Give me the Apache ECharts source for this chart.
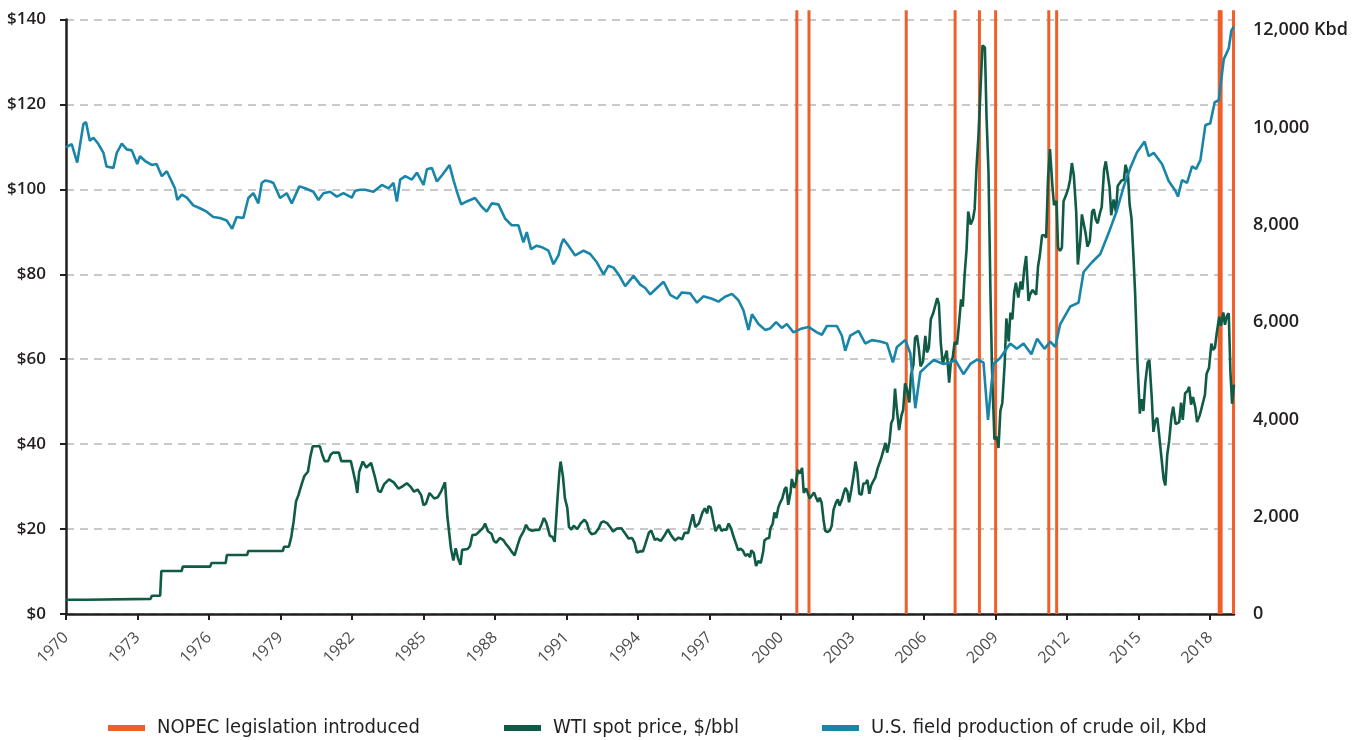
<!DOCTYPE html>
<html>
<head>
<meta charset="utf-8">
<title>NOPEC, WTI and U.S. crude production</title>
<script src="https://cdn.jsdelivr.net/npm/echarts@6/dist/echarts.min.js"></script>
<style>
    html, body { margin: 0; padding: 0; background: #fff; }
    #chart { width: 1360px; height: 740px; }
</style>
</head>
<body>
<div id="chart"></div>
<script>
// tick labels
var yearTicks = [1970, 1973, 1976, 1979, 1982, 1985, 1988, 1991, 1994, 1997, 2000, 2003, 2006, 2009, 2012, 2015, 2018];
var prodTicks = [0, 2000, 4000, 6000, 8000, 10000, 12000];

// NOPEC bills introduced (decimal year)
var nopecDates = [2000.66, 2001.17, 2005.25, 2007.3, 2008.32, 2009.0, 2011.23, 2011.56, 2018.38, 2018.46, 2018.98];

// WTI spot price, $/bbl  [year, price]
var wtiPrice = [
    [1970.0,3.35],[1970.85,3.35],[1970.9,3.56],[1973.55,3.56],[1973.6,4.31],[1973.95,4.31],[1974.0,10.11],[1974.85,10.11],
    [1974.9,11.16],[1976.05,11.16],[1976.1,12.0],[1976.7,12.0],[1976.75,13.9],[1977.6,13.9],[1977.65,14.85],[1979.1,14.85],
    [1979.15,15.85],[1979.35,15.85],[1979.45,18.1],[1979.55,21.8],[1979.65,26.5],[1979.75,28.0],[1979.9,30.8],[1980.0,32.5],
    [1980.15,33.5],[1980.25,37.0],[1980.35,39.5],[1980.45,39.5],[1980.65,39.5],[1980.75,37.5],[1980.85,36.0],[1981.0,36.0],
    [1981.1,37.5],[1981.2,38.0],[1981.45,38.0],[1981.55,36.0],[1981.95,36.0],[1982.05,33.5],[1982.15,31.0],[1982.22,28.5],
    [1982.3,33.5],[1982.45,35.9],[1982.6,34.5],[1982.8,35.6],[1982.95,32.5],[1983.1,29.0],[1983.2,28.7],[1983.35,30.6],
    [1983.55,31.7],[1983.75,31.0],[1983.95,29.5],[1984.1,30.0],[1984.3,30.8],[1984.45,30.0],[1984.6,28.8],[1984.75,29.3],
    [1984.9,28.0],[1985.0,25.6],[1985.1,26.0],[1985.25,28.5],[1985.45,27.2],[1985.6,27.5],[1985.75,29.0],[1985.9,31.0],
    [1986.0,22.9],[1986.15,15.4],[1986.25,12.6],[1986.35,15.5],[1986.45,13.0],[1986.55,11.6],[1986.62,15.1],[1986.7,14.9],
    [1986.85,15.3],[1986.95,16.0],[1987.05,18.6],[1987.2,18.7],[1987.35,19.5],[1987.5,20.3],[1987.58,21.3],[1987.7,19.5],
    [1987.85,18.9],[1987.95,17.2],[1988.05,16.8],[1988.2,17.9],[1988.35,17.4],[1988.45,16.5],[1988.6,15.5],[1988.72,14.5],
    [1988.82,13.8],[1988.95,16.3],[1989.05,18.0],[1989.2,19.5],[1989.3,21.0],[1989.4,20.0],[1989.55,19.6],[1989.7,19.8],
    [1989.85,19.8],[1989.95,21.1],[1990.05,22.6],[1990.15,21.5],[1990.3,18.4],[1990.4,18.2],[1990.5,17.0],[1990.55,17.3],
    [1990.62,27.3],[1990.7,33.5],[1990.75,35.9],[1990.85,32.3],[1990.93,27.3],[1991.03,25.0],[1991.1,20.5],[1991.2,19.9],
    [1991.3,20.8],[1991.45,20.0],[1991.6,21.4],[1991.75,22.2],[1991.85,21.5],[1991.95,19.5],[1992.05,18.8],[1992.2,19.0],
    [1992.35,20.2],[1992.45,21.5],[1992.55,21.8],[1992.7,21.4],[1992.85,20.3],[1992.95,19.4],[1993.1,20.1],[1993.3,20.2],
    [1993.45,19.0],[1993.6,17.8],[1993.75,17.9],[1993.85,16.8],[1993.95,14.5],[1994.1,14.8],[1994.2,14.7],[1994.3,16.4],
    [1994.45,19.1],[1994.55,19.7],[1994.7,17.5],[1994.8,17.7],[1994.95,17.2],[1995.1,18.4],[1995.25,19.9],[1995.4,18.4],
    [1995.55,17.3],[1995.7,18.0],[1995.85,17.6],[1995.95,19.1],[1996.1,19.1],[1996.2,21.3],[1996.3,23.5],[1996.4,20.5],
    [1996.55,21.3],[1996.7,23.9],[1996.8,24.9],[1996.9,23.7],[1996.95,25.4],[1997.05,25.1],[1997.15,22.2],[1997.25,19.5],
    [1997.4,21.0],[1997.5,19.6],[1997.6,19.9],[1997.7,19.8],[1997.8,21.3],[1997.9,20.2],[1998.0,18.3],[1998.1,16.7],
    [1998.2,15.0],[1998.3,15.4],[1998.4,14.9],[1998.5,13.7],[1998.6,14.1],[1998.7,13.4],[1998.75,15.0],[1998.85,14.4],
    [1998.9,12.9],[1998.95,11.3],[1999.05,12.5],[1999.15,12.0],[1999.25,14.7],[1999.3,17.3],[1999.4,17.8],[1999.5,17.9],
    [1999.55,20.1],[1999.65,21.3],[1999.72,23.9],[1999.8,22.6],[1999.88,25.0],[1999.95,26.1],[2000.05,27.2],[2000.15,29.4],
    [2000.22,29.9],[2000.3,25.7],[2000.4,28.8],[2000.45,31.8],[2000.55,29.7],[2000.63,31.2],[2000.7,33.9],[2000.8,33.1],
    [2000.88,34.4],[2000.95,28.5],[2001.05,29.6],[2001.12,29.6],[2001.2,27.2],[2001.28,27.4],[2001.38,28.6],[2001.45,27.6],
    [2001.55,26.4],[2001.62,27.4],[2001.7,26.2],[2001.78,22.2],[2001.85,19.6],[2001.95,19.3],[2002.05,19.7],[2002.12,20.7],
    [2002.2,24.5],[2002.3,26.2],[2002.38,27.0],[2002.45,25.5],[2002.55,26.9],[2002.62,28.4],[2002.7,29.7],[2002.78,28.9],
    [2002.85,26.3],[2002.95,29.4],[2003.05,32.9],[2003.12,35.9],[2003.2,33.5],[2003.28,28.3],[2003.38,28.1],[2003.45,30.7],
    [2003.55,30.8],[2003.62,31.6],[2003.7,28.3],[2003.78,30.3],[2003.85,31.1],[2003.95,32.1],[2004.05,34.3],[2004.12,34.7],
    [2004.2,36.7],[2004.28,36.7],[2004.38,40.3],[2004.45,38.0],[2004.55,40.7],[2004.62,44.9],[2004.7,46.0],[2004.78,53.1],
    [2004.85,48.5],[2004.95,43.3],[2005.05,46.8],[2005.12,48.0],[2005.2,54.3],[2005.28,53.0],[2005.38,49.8],[2005.45,56.3],
    [2005.55,58.7],[2005.62,65.0],[2005.7,65.6],[2005.78,62.4],[2005.85,58.3],[2005.95,59.4],[2006.05,65.5],[2006.12,61.6],
    [2006.2,62.7],[2006.28,69.4],[2006.38,70.8],[2006.45,70.9],[2006.55,74.4],[2006.62,73.0],[2006.7,63.8],[2006.78,58.9],
    [2006.85,59.1],[2006.95,62.0],[2007.05,54.5],[2007.12,59.3],[2007.2,60.4],[2007.28,64.0],[2007.38,63.5],[2007.45,67.5],
    [2007.55,74.1],[2007.62,72.4],[2007.7,79.9],[2007.78,85.8],[2007.85,94.8],[2007.95,91.7],[2008.05,93.0],[2008.12,95.4],
    [2008.2,105.5],[2008.28,112.6],[2008.38,125.4],[2008.45,133.9],[2008.55,133.4],[2008.62,116.7],[2008.7,104.1],[2008.78,76.6],
    [2008.85,57.3],[2008.95,41.1],[2009.05,41.7],[2009.12,39.1],[2009.2,47.9],[2009.28,49.7],[2009.38,59.0],[2009.45,69.6],
    [2009.55,64.2],[2009.62,71.0],[2009.7,69.4],[2009.78,75.7],[2009.85,78.0],[2009.95,74.5],[2010.05,78.3],[2010.12,76.4],
    [2010.2,81.2],[2010.28,84.3],[2010.38,73.7],[2010.45,75.3],[2010.55,76.3],[2010.62,76.6],[2010.7,75.2],[2010.78,81.9],
    [2010.85,84.3],[2010.95,89.2],[2011.05,89.2],[2011.12,88.6],[2011.2,102.9],[2011.28,109.5],[2011.38,100.9],[2011.45,96.3],
    [2011.55,97.3],[2011.62,86.3],[2011.7,85.5],[2011.78,86.3],[2011.85,97.2],[2011.95,98.6],[2012.05,100.3],[2012.12,102.2],
    [2012.2,106.2],[2012.28,103.3],[2012.38,94.7],[2012.45,82.3],[2012.55,87.9],[2012.62,94.1],[2012.7,94.5],[2012.78,89.5],
    [2012.85,86.5],[2012.95,87.9],[2013.05,94.8],[2013.12,95.3],[2013.2,92.9],[2013.28,92.0],[2013.38,94.5],[2013.45,95.8],
    [2013.55,104.6],[2013.62,106.6],[2013.7,106.3],[2013.78,100.5],[2013.85,93.9],[2013.95,97.6],[2014.05,94.6],[2014.12,100.8],
    [2014.2,100.8],[2014.28,102.1],[2014.38,102.2],[2014.45,105.8],[2014.55,103.6],[2014.62,96.5],[2014.7,93.2],[2014.78,84.4],
    [2014.85,75.8],[2014.95,59.3],[2015.05,47.2],[2015.12,50.6],[2015.2,47.8],[2015.28,54.5],[2015.38,59.3],[2015.45,59.8],
    [2015.55,50.9],[2015.62,42.9],[2015.7,45.5],[2015.78,46.2],[2015.85,42.7],[2015.95,37.2],[2016.05,31.7],[2016.12,30.3],
    [2016.2,37.5],[2016.28,40.8],[2016.38,46.7],[2016.45,48.8],[2016.55,44.7],[2016.62,44.7],[2016.7,45.2],[2016.78,49.8],
    [2016.85,45.7],[2016.95,52.0],[2017.05,52.5],[2017.12,53.5],[2017.2,49.3],[2017.28,51.1],[2017.38,48.5],[2017.45,45.2],
    [2017.55,46.6],[2017.62,48.0],[2017.7,49.8],[2017.78,51.6],[2017.85,56.6],[2017.95,57.9],[2018.05,63.7],[2018.12,62.2],
    [2018.2,62.7],[2018.28,66.3],[2018.38,70.0],[2018.45,67.9],[2018.55,71.0],[2018.62,68.1],[2018.7,70.2],[2018.78,70.8],
    [2018.85,57.0],[2018.92,49.5],[2019.0,54.0]
];

// U.S. field production of crude oil, Kbd  [year, kbd]
var usProduction = [
    [1970.0,9590],[1970.24,9660],[1970.47,9280],[1970.73,10070],[1970.84,10110],[1971.0,9730],[1971.15,9790],[1971.36,9660],
    [1971.57,9480],[1971.7,9200],[1971.99,9170],[1972.13,9480],[1972.34,9670],[1972.55,9550],[1972.76,9530],[1972.99,9250],
    [1973.1,9410],[1973.32,9310],[1973.6,9230],[1973.8,9250],[1974.02,9000],[1974.23,9100],[1974.57,8750],[1974.67,8510],
    [1974.86,8620],[1975.07,8560],[1975.34,8400],[1975.62,8340],[1975.9,8270],[1976.18,8160],[1976.46,8140],[1976.74,8090],
    [1976.97,7920],[1977.16,8160],[1977.44,8140],[1977.65,8550],[1977.86,8650],[1978.07,8440],[1978.21,8860],[1978.35,8910],
    [1978.56,8890],[1978.7,8860],[1978.98,8550],[1979.26,8650],[1979.47,8440],[1979.79,8790],[1980.03,8750],[1980.38,8680],
    [1980.59,8510],[1980.8,8650],[1981.08,8680],[1981.36,8580],[1981.64,8650],[1981.99,8560],[1982.13,8700],[1982.34,8720],
    [1982.55,8720],[1982.9,8680],[1983.25,8820],[1983.53,8750],[1983.74,8860],[1983.88,8480],[1984.02,8930],[1984.23,9000],
    [1984.51,8930],[1984.72,9070],[1985.0,8820],[1985.14,9140],[1985.35,9170],[1985.56,8890],[1985.79,9030],[1986.09,9230],
    [1986.25,8930],[1986.4,8680],[1986.58,8420],[1986.81,8480],[1987.16,8550],[1987.44,8370],[1987.65,8270],[1987.86,8440],
    [1988.14,8420],[1988.42,8130],[1988.7,7990],[1988.98,7990],[1989.19,7640],[1989.33,7850],[1989.51,7500],[1989.75,7570],
    [1989.96,7540],[1990.24,7470],[1990.45,7190],[1990.66,7370],[1990.77,7590],[1990.87,7710],[1991.08,7570],[1991.36,7370],
    [1991.71,7470],[1991.99,7400],[1992.27,7230],[1992.55,6980],[1992.76,7160],[1992.97,7120],[1993.18,6980],[1993.46,6740],
    [1993.81,6950],[1994.09,6770],[1994.3,6700],[1994.51,6570],[1994.72,6670],[1995.07,6830],[1995.35,6560],[1995.63,6480],
    [1995.84,6610],[1996.19,6590],[1996.47,6400],[1996.74,6530],[1997.1,6480],[1997.37,6420],[1997.65,6520],[1997.94,6580],
    [1998.21,6450],[1998.42,6240],[1998.63,5840],[1998.78,6160],[1999.05,5960],[1999.33,5840],[1999.54,5870],[1999.79,6000],
    [2000.03,5880],[2000.24,5960],[2000.52,5790],[2000.87,5870],[2001.15,5900],[2001.5,5790],[2001.71,5740],[2001.92,5920],
    [2002.34,5920],[2002.55,5720],[2002.69,5410],[2002.9,5720],[2003.25,5820],[2003.53,5560],[2003.81,5630],[2004.16,5600],
    [2004.44,5560],[2004.69,5170],[2004.86,5490],[2005.21,5630],[2005.42,5360],[2005.63,4230],[2005.84,4970],[2006.12,5100],
    [2006.4,5220],[2006.81,5140],[2007.1,5170],[2007.31,5220],[2007.65,4930],[2007.94,5140],[2008.22,5230],[2008.49,5170],
    [2008.68,3990],[2008.91,5140],[2009.19,5260],[2009.61,5560],[2009.89,5450],[2010.17,5560],[2010.5,5340],[2010.74,5660],
    [2011.05,5450],[2011.29,5600],[2011.5,5490],[2011.71,5960],[2012.13,6320],[2012.48,6400],[2012.69,7030],[2013.04,7230],
    [2013.39,7400],[2013.74,7830],[2014.09,8300],[2014.37,8780],[2014.65,9170],[2014.93,9490],[2015.25,9710],[2015.42,9410],
    [2015.63,9480],[2015.98,9250],[2016.26,8900],[2016.54,8700],[2016.65,8580],[2016.82,8920],[2017.03,8860],[2017.24,9200],
    [2017.41,9150],[2017.59,9330],[2017.8,10050],[2018.0,10080],[2018.19,10520],[2018.36,10560],[2018.57,11400],[2018.78,11630],
    [2018.89,11990],[2018.99,12070]
];

var NAME_NOPEC = 'NOPEC legislation introduced',
    NAME_WTI = 'WTI spot price, $/bbl',
    NAME_PROD = 'U.S. field production of crude oil, Kbd';

var C_ORANGE = '#ef5f29', C_GREEN = '#0f5b45', C_BLUE = '#1985a8', C_INK = '#231f20';
var LEGEND_FONT = "'Liberation Sans Narrow', 'DejaVu Sans Condensed', 'Open Sans', sans-serif";

var chart = echarts.init(document.getElementById('chart'), null, { renderer: 'canvas' });

function legendAt(left, name) {
    return {
        left: left, top: 713,
        data: [name],
        icon: 'rect',
        itemWidth: 37, itemHeight: 6,
        selectedMode: false,
        textStyle: { fontFamily: LEGEND_FONT, fontSize: 20, color: C_INK, padding: [0, 0, 0, 7] }
    };
}

var option = {
    animation: false,
    backgroundColor: '#fff',
    legend: [
        legendAt(103, NAME_NOPEC),
        legendAt(499, NAME_WTI),
        legendAt(817, NAME_PROD)
    ],
    grid: { left: 66, right: 126, top: 19.5, bottom: 126, outerBoundsMode: 'none' },
    xAxis: {
        type: 'value',
        min: 1970, max: 2019,
        axisLine: { lineStyle: { color: C_INK, width: 2.5 } },
        axisTick: { customValues: yearTicks, length: 6, lineStyle: { color: C_INK, width: 2 } },
        axisLabel: {
            customValues: yearTicks,
            rotate: 45, margin: 21,
            fontFamily: 'Open Sans', fontSize: 16, color: '#4d4d4d',
            formatter: function (v) { return String(v); }
        },
        splitLine: { show: false }
    },
    yAxis: [{
        type: 'value',
        min: 0, max: 140, interval: 20,
        axisLine: { show: true, lineStyle: { color: C_INK, width: 2.5 } },
        axisTick: { show: true, length: 6, lineStyle: { color: C_INK, width: 2 } },
        axisLabel: {
            margin: 20, fontFamily: 'Open Sans', fontSize: 17, fontWeight: 600, color: C_INK,
            formatter: function (v) { return '$' + v; }
        },
        splitLine: { show: true, lineStyle: { color: '#b8b8b8', width: 1.5, type: [8, 6] } }
    }, {
        type: 'value',
        position: 'right',
        min: 0, max: 12220,
        axisLine: { show: false },
        axisTick: { show: false },
        axisLabel: {
            customValues: prodTicks,
            margin: 19, fontFamily: 'Open Sans', fontSize: 18, fontWeight: 600, color: C_INK,
            formatter: function (v) {
                var s = v.toLocaleString('en-US');
                return v === 12000 ? s + ' Kbd' : s;
            }
        },
        splitLine: { show: false }
    }],
    series: [{
        name: NAME_NOPEC,
        type: 'bar',
        xAxisIndex: 0, yAxisIndex: 0,
        barWidth: 3,
        clip: false,
        z: 1,
        itemStyle: { color: C_ORANGE },
        // bars reach slightly above the top gridline, as in the source chart
        data: nopecDates.map(function (d) { return [d, 142.2]; })
    }, {
        name: NAME_WTI,
        type: 'line',
        yAxisIndex: 0,
        showSymbol: false,
        z: 3,
        itemStyle: { color: C_GREEN },
        lineStyle: { color: C_GREEN, width: 2.6 },
        data: wtiPrice
    }, {
        name: NAME_PROD,
        type: 'line',
        yAxisIndex: 1,
        showSymbol: false,
        z: 3,
        itemStyle: { color: C_BLUE },
        lineStyle: { color: C_BLUE, width: 2.6 },
        data: usProduction
    }]
};

chart.setOption(option);
</script>
</body>
</html>
